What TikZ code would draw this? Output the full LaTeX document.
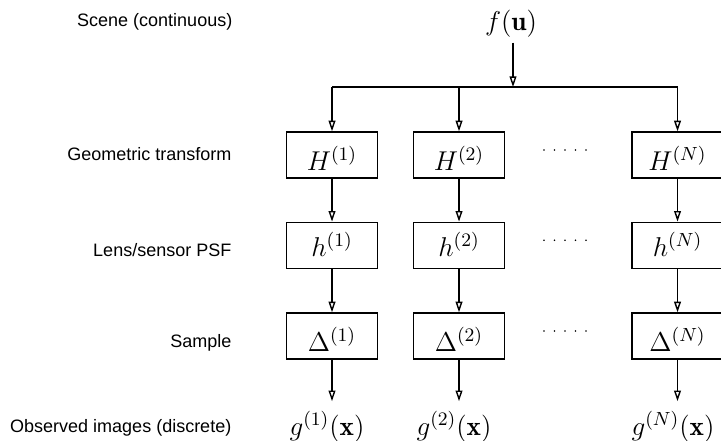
\RequirePackage{fix-cm}
\documentclass[tikz,border=0pt]{standalone}
\usepackage{fontspec}
\newfontfamily\labfont{Liberation Sans}
\usetikzlibrary{arrows.meta}
\begin{document}
\begin{tikzpicture}[x=0.5pt,y=-0.5pt,
  every path/.style={line width=0.7pt},
  arr/.style={-{Triangle[open,length=5.3pt,width=3.4pt]}},
  lab/.style={anchor=base east,inner sep=0pt,font=\labfont\fontsize{9}{11}\selectfont},
  mth/.style={font=\fontsize{13.6}{16}\selectfont},
  blk/.style={draw,mth,minimum width=45.5pt,minimum height=23pt,inner sep=0pt,text depth=0pt},
  rowH/.style={blk,text height=15pt},
  rowh/.style={blk,text height=11.4pt},
  rowD/.style={blk,text height=15.7pt},
  outp/.style={mth,anchor=base,inner sep=4.5pt}]
\useasboundingbox (0,0) rectangle (721,440);
% left labels
\node[lab] (l1) at (233,26) {Scene (continuous)};
\node[lab] (l2) at (232,160) {Geometric transform};
\node[lab] (l3) at (232,256) {Lens/sensor PSF};
\node[lab] (l4) at (232,347.3) {Sample};
\node[lab] (l5) at (232,432.7) {Observed images (discrete)};
% scene
\node[mth,anchor=base,inner sep=2.6pt] (f) at (511,30) {$f(\mathbf{u})$};
\coordinate (j1) at (332,87);
\coordinate (j2) at (459,87);
\coordinate (jN) at (677.5,87);
% boxes
\node[rowH] (H1) at (332,155) {$H^{(1)}$};
\node[rowH] (H2) at (459,155) {$H^{(2)}$};
\node[rowH] (HN) at (677.5,155) {$H^{(N)}$};
\node[rowh] (h1) at (332,245.3) {$h^{(1)}$};
\node[rowh] (h2) at (459,245.3) {$h^{(2)}$};
\node[rowh] (hN) at (677.5,245.3) {$h^{(N)}$};
\node[rowD] (D1) at (332,336) {$\Delta^{(1)}$};
\node[rowD] (D2) at (459,336) {$\Delta^{(2)}$};
\node[rowD] (DN) at (677.5,336) {$\Delta^{(N)}$};
\node[outp] (g1) at (327,435) {$g^{(1)}(\mathbf{x})$};
\node[outp] (g2) at (454,435) {$g^{(2)}(\mathbf{x})$};
\node[outp] (gN) at (673,435) {$g^{(N)}(\mathbf{x})$};
% connectors
\coordinate (fs) at ([xshift=1pt]f.south);
\draw[arr] (fs) -- (fs |- j1);
\draw (j1) -- (jN);
\foreach \c/\a/\b/\d/\g in {1/H1/h1/D1/g1, 2/H2/h2/D2/g2, N/HN/hN/DN/gN}{
  \draw[arr] (j\c) -- (\a);
  \draw[arr] (\a) -- (\b);
  \draw[arr] (\b) -- (\d);
  \draw[arr] (\d) -- (\d |- \g.north);
}
% ellipsis dots
\foreach \yy in {150,240.3,331}{
  \foreach \k in {0,...,4}{
    \fill (544+10.5*\k,\yy) circle (0.45pt);
  }
}
\end{tikzpicture}
\end{document}
